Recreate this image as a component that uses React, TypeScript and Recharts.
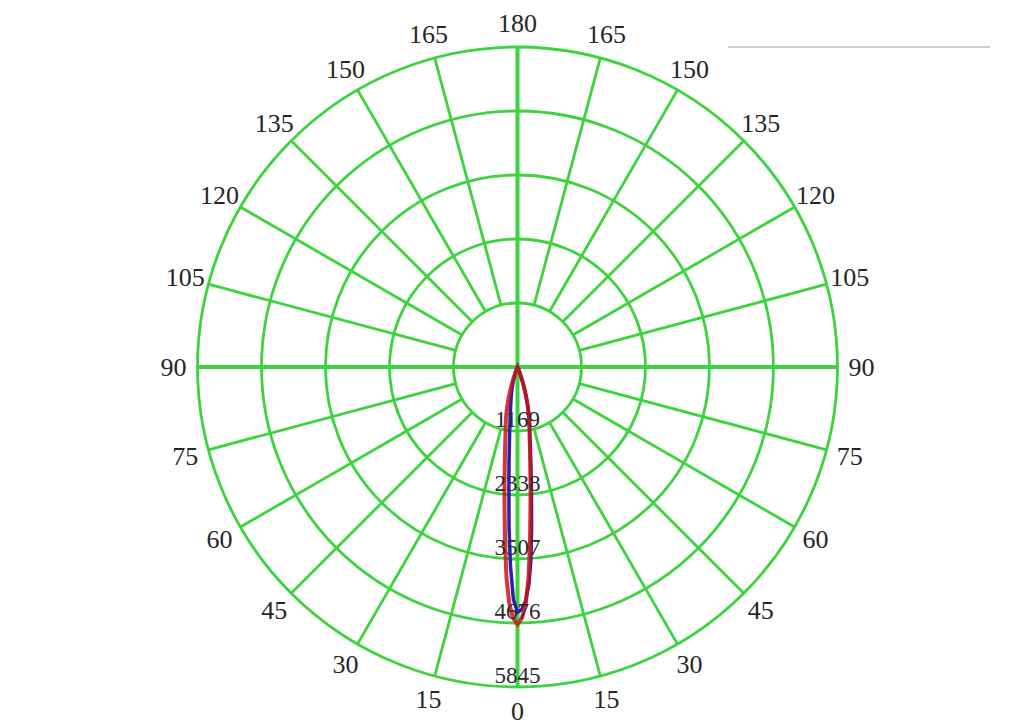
import React from 'react';
import { RadarChart, Radar, PolarGrid, PolarAngleAxis, PolarRadiusAxis } from 'recharts';

// ---- data ----
// angle labels (degrees, symmetric about the 0–180 axis)
const ANGLE_LABELS = [0, 15, 30, 45, 60, 75, 90, 105, 120, 135, 150, 165, 180];
// radial ring values (cd)
const RADIAL_TICKS = [1169, 2338, 3507, 4676, 5845];
const RADIAL_MAX = 5845;
// angular offset from 0° (degrees) for the lobe samples
const LOBE_OFFSETS = [0, 1, 2, 3, 4, 5, 6, 7, 8, 9, 10, 11, 12, 13, 14, 15, 16, 17, 18, 19, 20, 21, 22, 23, 24];
// red curve (C0/C180 plane), right side and left side of the 0° axis
const RED_RIGHT = [4700, 4590, 4320, 3850, 3250, 2700, 2280, 1920, 1650, 1440, 1270, 1140, 1030, 920, 810, 700, 590, 480, 370, 280, 195, 125, 70, 30, 0];
const RED_LEFT = [4700, 4590, 4320, 3850, 3250, 2700, 2280, 1920, 1650, 1440, 1270, 1140, 1030, 920, 810, 700, 590, 480, 370, 280, 195, 125, 70, 30, 0];
// blue curve (C90/C270 plane)
const BLUE_RIGHT = [4480, 4430, 4270, 3980, 3520, 2950, 2450, 2050, 1740, 1500, 1310, 1170, 1050, 930, 820, 700, 590, 480, 380, 290, 200, 130, 70, 30, 0];
const BLUE_LEFT = [4480, 4250, 3650, 2950, 2250, 1780, 1420, 1170, 970, 830, 720, 630, 550, 480, 410, 350, 290, 230, 180, 130, 90, 60, 30, 10, 0];

// full-circle table, one row per degree (0 = bottom, increasing counter-clockwise)
const DEGREES = Array.from({ length: 360 }, (_, k) => k);
const chartData = DEGREES.map((k) => {
  const right = LOBE_OFFSETS.indexOf(k);
  const left = LOBE_OFFSETS.indexOf(360 - k);
  return {
    deg: k,
    red: right >= 0 ? RED_RIGHT[right] : left >= 0 ? RED_LEFT[left] : 0,
    blue: right >= 0 ? BLUE_RIGHT[right] : left >= 0 ? BLUE_LEFT[left] : 0,
  };
});

// ---- layout / style ----
const W = 1024;
const H = 724;
const CX = 517.5;
const CY = 367;
const R = 320;
const INNER = (R * RADIAL_TICKS[0]) / RADIAL_MAX;
const LABEL_R = 344;
const BOTTOM = -90; // direction of 0°
const BAND = 360 / DEGREES.length; // radar points sit one band after the band start
const START = BOTTOM - BAND;
const GREEN = '#3cd43c';
const FONT = '"Liberation Serif", "DejaVu Serif", serif';
const MARGIN = { top: 0, right: 0, bottom: 0, left: 0 };

const toRc = (d: number) => BOTTOM + d;
const AXIS_ANGLES = [0, 90, 180, 270].map(toRc);
const SPOKE_ANGLES = ANGLE_LABELS.filter((d) => d % 90 !== 0).flatMap((d) => [toRc(d), toRc(360 - d)]);

const AngleTick = (props: any) => {
  const { payload } = props;
  const k = Number(payload.value);
  if (k % 15 !== 0) return null;
  const label = k <= 180 ? k : 360 - k;
  const a = (toRc(k) * Math.PI) / 180;
  const x = CX + LABEL_R * Math.cos(-a);
  const y = CY + LABEL_R * Math.sin(-a);
  return (
    <text x={x} y={y} textAnchor="middle" dominantBaseline="central" fontSize={26} fontFamily={FONT} fill="#262626">
      {label}
    </text>
  );
};

const RadiusTick = (props: any) => {
  const { x, y, payload } = props;
  return (
    <text x={x} y={y - 12} textAnchor="middle" dominantBaseline="central" fontSize={23} fontFamily={FONT} fill="#2a2a2a">
      {payload.value}
    </text>
  );
};

export default function App() {
  return (
    <div style={{ position: 'fixed', left: 0, top: 0, width: W, height: H, background: '#fff' }}>
      <div style={{ position: 'absolute', left: 728, top: 46, width: 262, height: 2, background: '#cfcfcf' }} />
      {/* spokes, from the first ring to the outer ring */}
      <div style={{ position: 'absolute', left: 0, top: 0 }}>
        <RadarChart width={W} height={H} data={chartData} cx={CX} cy={CY} innerRadius={INNER} outerRadius={R} startAngle={START} endAngle={START + 360} margin={MARGIN}>
          <PolarGrid gridType="circle" polarAngles={SPOKE_ANGLES} polarRadius={[]} stroke={GREEN} strokeWidth={2.8} strokeOpacity={1} />
        </RadarChart>
      </div>
      <div style={{ position: 'absolute', left: 0, top: 0 }}>
        <RadarChart width={W} height={H} data={chartData} cx={CX} cy={CY} innerRadius={0} outerRadius={R} startAngle={START} endAngle={START + 360} margin={MARGIN}>
          <PolarGrid gridType="circle" polarAngles={[]} stroke={GREEN} strokeWidth={2.8} strokeOpacity={1} />
          <PolarGrid gridType="circle" polarAngles={AXIS_ANGLES} polarRadius={[]} stroke={GREEN} strokeWidth={4} strokeOpacity={1} />
          <PolarAngleAxis dataKey="deg" tick={<AngleTick />} tickLine={false} axisLine={false} />
          <PolarRadiusAxis angle={-90} type="number" domain={[0, RADIAL_MAX]} ticks={RADIAL_TICKS as any} tick={<RadiusTick />} tickLine={false} axisLine={false} />
          <Radar dataKey="blue" stroke="#2b20b0" strokeWidth={3.5} fill="none" fillOpacity={0} isAnimationActive={false} dot={false} />
          <Radar dataKey="red" stroke="#cc1418" strokeWidth={4} strokeOpacity={0.85} fill="none" fillOpacity={0} isAnimationActive={false} dot={false} />
        </RadarChart>
      </div>
    </div>
  );
}
